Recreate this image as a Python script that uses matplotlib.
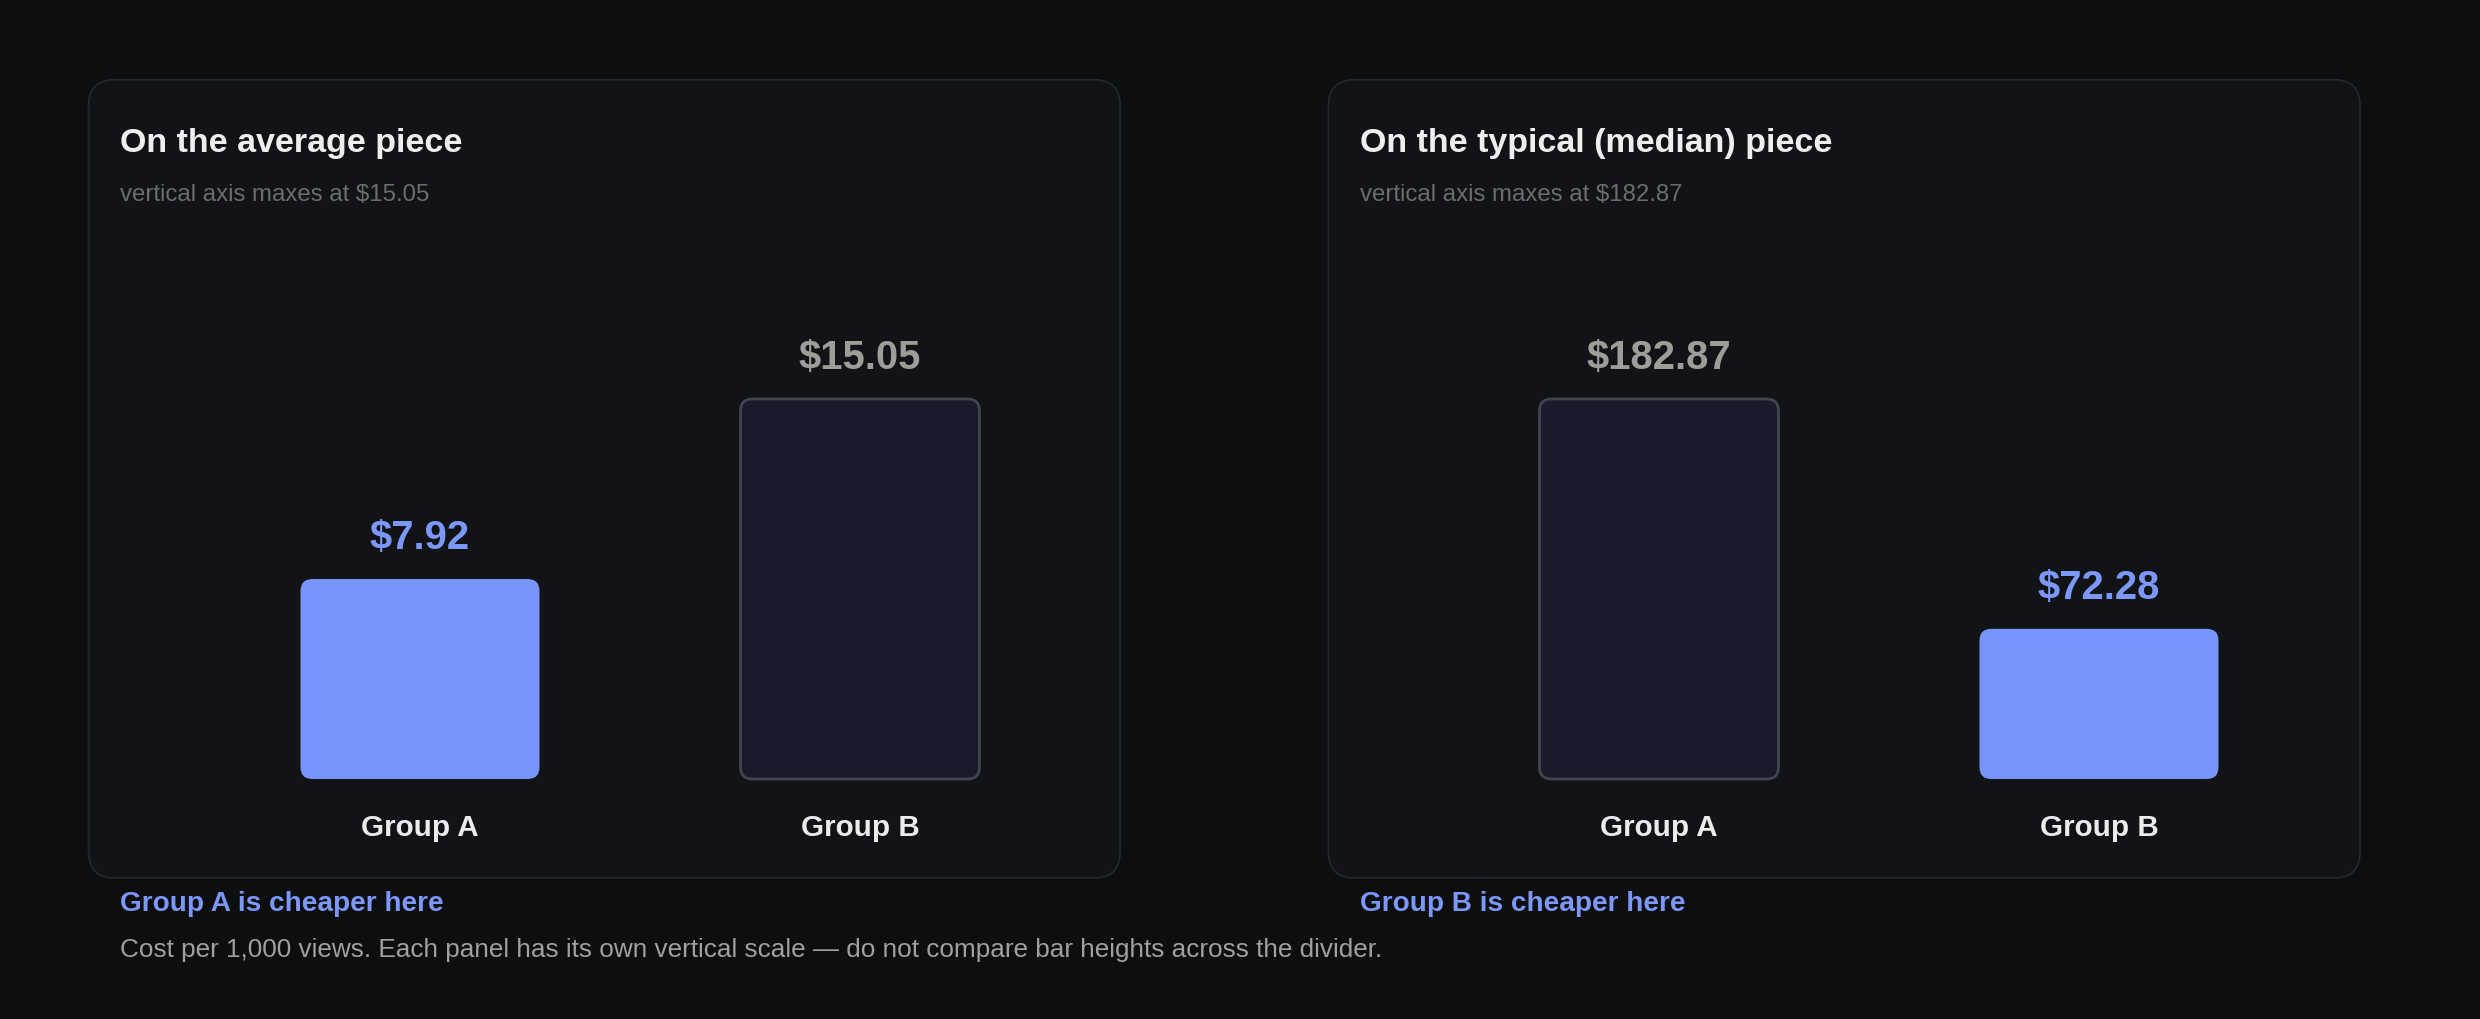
import matplotlib
matplotlib.use("Agg")
import matplotlib.pyplot as plt
from matplotlib.patches import FancyBboxPatch

plt.rcParams['font.family'] = ['Liberation Sans', 'DejaVu Sans']

# ---- data ----
categories = ["Group A", "Group B"]
avg_values = [7.92, 15.05]
median_values = [182.87, 72.28]
panel_titles = ["On the average piece", "On the typical (median) piece"]
panel_notes = ["Group A is cheaper here", "Group B is cheaper here"]
caption = ("Cost per 1,000 views. Each panel has its own vertical scale \u2014 "
           "do not compare bar heights across the divider.")

# ---- style ----
BG = "#0d0e10"
PANEL = "#111316"
PANEL_EDGE = "#24272c"
BLUE = "#7795fc"
BLUE_TXT = "#7b97f7"
DARK_BAR = "#171b2c"
DARK_EDGE = "#40454e"
TITLE_C = "#eeeeee"
SUB_C = "#6b6e6c"
VAL_GRAY = "#9c9e99"
LABEL_C = "#ececec"
CAP_C = "#a0a19d"

W, H = 2480, 1020
DPI = 100
fig = plt.figure(figsize=(W / DPI, H / DPI), dpi=DPI, facecolor=BG)

# overlay axes in pixel coordinates (y from top)
bg = fig.add_axes([0, 0, 1, 1])
bg.set_xlim(0, W)
bg.set_ylim(H, 0)
bg.axis("off")
bg.set_zorder(0)

panels_x = [88.6, 1328.5]
panel_w = 1031.5
panel_top, panel_bot = 80.7, 879
bar_axes_x = [200, 1439]
ax_bottom_px, ax_top_px = 780, 400

datasets = [avg_values, median_values]
cheaper = [0, 1]

def px2fig_y(py):
    return 1 - py / H

for k in range(2):
    x0 = panels_x[k]
    bg.add_patch(FancyBboxPatch((x0, panel_top), panel_w, panel_bot - panel_top,
                                boxstyle="round,pad=0,rounding_size=26",
                                facecolor=PANEL, edgecolor=PANEL_EDGE, linewidth=1.3))
    tx = x0 + 31.5
    bg.text(tx, 152, panel_titles[k], color=TITLE_C, fontsize=24.5,
            fontweight="bold", va="baseline", ha="left")
    vals = datasets[k]
    vmax = max(vals)
    bg.text(tx, 201, f"vertical axis maxes at ${vmax:.2f}", color=SUB_C,
            fontsize=17.3, va="baseline", ha="left")
    bg.text(tx, 911, panel_notes[k], color=BLUE_TXT, fontsize=20.2,
            fontweight="bold", va="baseline", ha="left")

    # bar axes
    axx = bar_axes_x[k]
    ax = fig.add_axes([axx / W, px2fig_y(ax_bottom_px), 880 / W,
                       (ax_bottom_px - ax_top_px) / H])
    ax.set_zorder(2)
    ax.patch.set_alpha(0)
    ax.set_xlim(-0.5, 1.5)
    ax.set_ylim(0, vmax)
    ax.axis("off")
    bw = 239 / 440
    bars = ax.bar(range(len(categories)), vals, width=bw)
    # units per pixel
    xupp = 2.0 / 880
    yupp = vmax / (ax_bottom_px - ax_top_px)
    aspect = yupp / xupp
    r_px = 12
    for i, b in enumerate(bars):
        x, y = b.get_x(), b.get_y()
        w, h = b.get_width(), b.get_height()
        b.remove()
        if i == cheaper[k]:
            fc, ec, lw = BLUE, BLUE, 0
            vc = BLUE_TXT
        else:
            fc, ec, lw = DARK_BAR, DARK_EDGE, 2.0
            vc = VAL_GRAY
        p = FancyBboxPatch((x, y), w, h,
                           boxstyle=f"round,pad=0,rounding_size={r_px * xupp}",
                           mutation_aspect=aspect,
                           facecolor=fc, edgecolor=ec, linewidth=lw, clip_on=False)
        ax.add_patch(p)
        ax.annotate(f"${vals[i]:.2f}", (i, vals[i]), xytext=(0, 31 * 72 / DPI),
                    textcoords="offset points", ha="center", va="baseline",
                    color=vc, fontsize=28.8, fontweight="bold", annotation_clip=False)
        ax.annotate(categories[i], (i, 0), xytext=(0, -56 * 72 / DPI),
                    textcoords="offset points", ha="center", va="baseline",
                    color=LABEL_C, fontsize=21.3, fontweight="bold", annotation_clip=False)

bg.text(120, 957, caption, color=CAP_C, fontsize=18.8, va="baseline", ha="left")

fig.savefig("out.png", dpi=DPI, facecolor=BG)
